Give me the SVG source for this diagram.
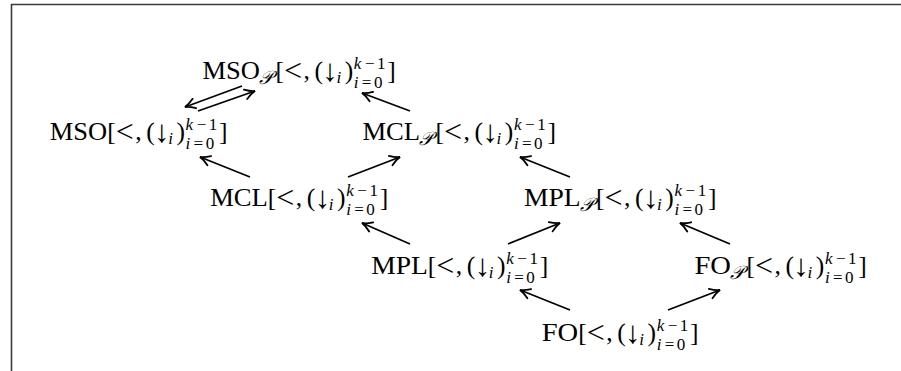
<svg xmlns="http://www.w3.org/2000/svg" width="901" height="371" viewBox="0 0 901 371">
<style>
  .m { font-family: "Liberation Serif", "DejaVu Serif", serif; font-size: 25.5px; fill: #000; }
  .lt { font-family: "Liberation Serif", "DejaVu Serif", serif; font-size: 32px; fill: #000; }
  .dn { font-family: "Liberation Serif", "DejaVu Serif", serif; font-size: 31px; fill: #000; }
  .s { font-family: "Liberation Serif", "DejaVu Serif", serif; font-size: 17px; fill: #000; }
  .it { font-style: italic; }
  .cal { font-family: "DejaVu Serif", "Liberation Serif", serif; font-style: italic; font-size: 19px; }
  .arr { fill: none; stroke: #000; stroke-width: 1.8; marker-end: url(#ah); }
  .frame { fill: none; stroke: #3a3a3a; stroke-width: 1.6; }
</style>
<defs>
  <marker id="ah" markerUnits="userSpaceOnUse" markerWidth="16" markerHeight="16" viewBox="-12 -8 16 16" refX="0" refY="0" orient="auto" overflow="visible">
    <path d="M-10,-5 C-6,-2.2 -2.5,-0.6 0,0 C-2.5,0.6 -6,2.2 -10,5" fill="none" stroke="#000" stroke-width="1.8" stroke-linecap="round"/>
  </marker>
</defs>
<rect width="901" height="371" fill="#fff"/>
<path class="frame" d="M11.5,371 V4.5 H901"/>

<g id="n_msoP" transform="translate(275.45,79)">
  <text class="m" x="-72.9" textLength="57.4" lengthAdjust="spacingAndGlyphs">MSO</text>
  <text class="s cal" x="-16.5" y="4.5">𝒫</text>
  <text class="m"><tspan x="0">[</tspan><tspan x="28">,</tspan><tspan x="39">(</tspan><tspan x="69.2">)</tspan><tspan x="111.8">]</tspan></text>
  <text class="lt" x="17.5" y="2" text-anchor="middle">&lt;</text>
  <text class="dn" x="54.6" y="1.5" text-anchor="middle">↓</text>
  <text class="s it" x="61" y="4">i</text>
  <text class="s" y="-10.5"><tspan class="it" x="78.4">k</tspan><tspan x="89.5">−</tspan><tspan x="101.6">1</tspan></text>
  <text class="s" y="9"><tspan class="it" x="78.4">i</tspan><tspan x="86.4">=</tspan><tspan x="98.5">0</tspan></text>
</g>

<g id="n_mso" transform="translate(107.2,140)">
  <text class="m" x="-57.4" textLength="57.4" lengthAdjust="spacingAndGlyphs">MSO</text>
  <text class="m"><tspan x="0">[</tspan><tspan x="28">,</tspan><tspan x="39">(</tspan><tspan x="69.2">)</tspan><tspan x="111.8">]</tspan></text>
  <text class="lt" x="17.5" y="2" text-anchor="middle">&lt;</text>
  <text class="dn" x="54.6" y="1.5" text-anchor="middle">↓</text>
  <text class="s it" x="61" y="4">i</text>
  <text class="s" y="-10.5"><tspan class="it" x="78.4">k</tspan><tspan x="89.5">−</tspan><tspan x="101.6">1</tspan></text>
  <text class="s" y="9"><tspan class="it" x="78.4">i</tspan><tspan x="86.4">=</tspan><tspan x="98.5">0</tspan></text>
</g>

<g id="n_mclP" transform="translate(435.6,140)">
  <text class="m" x="-73.2" textLength="57.7" lengthAdjust="spacingAndGlyphs">MCL</text>
  <text class="s cal" x="-16.5" y="4.5">𝒫</text>
  <text class="m"><tspan x="0">[</tspan><tspan x="28">,</tspan><tspan x="39">(</tspan><tspan x="69.2">)</tspan><tspan x="111.8">]</tspan></text>
  <text class="lt" x="17.5" y="2" text-anchor="middle">&lt;</text>
  <text class="dn" x="54.6" y="1.5" text-anchor="middle">↓</text>
  <text class="s it" x="61" y="4">i</text>
  <text class="s" y="-10.5"><tspan class="it" x="78.4">k</tspan><tspan x="89.5">−</tspan><tspan x="101.6">1</tspan></text>
  <text class="s" y="9"><tspan class="it" x="78.4">i</tspan><tspan x="86.4">=</tspan><tspan x="98.5">0</tspan></text>
</g>

<g id="n_mcl" transform="translate(267.85,206)">
  <text class="m" x="-57.7" textLength="57.7" lengthAdjust="spacingAndGlyphs">MCL</text>
  <text class="m"><tspan x="0">[</tspan><tspan x="28">,</tspan><tspan x="39">(</tspan><tspan x="69.2">)</tspan><tspan x="111.8">]</tspan></text>
  <text class="lt" x="17.5" y="2" text-anchor="middle">&lt;</text>
  <text class="dn" x="54.6" y="1.5" text-anchor="middle">↓</text>
  <text class="s it" x="61" y="4">i</text>
  <text class="s" y="-10.5"><tspan class="it" x="78.4">k</tspan><tspan x="89.5">−</tspan><tspan x="101.6">1</tspan></text>
  <text class="s" y="9"><tspan class="it" x="78.4">i</tspan><tspan x="86.4">=</tspan><tspan x="98.5">0</tspan></text>
</g>

<g id="n_mplP" transform="translate(596.1,206)">
  <text class="m" x="-72.2" textLength="56.7" lengthAdjust="spacingAndGlyphs">MPL</text>
  <text class="s cal" x="-16.5" y="4.5">𝒫</text>
  <text class="m"><tspan x="0">[</tspan><tspan x="28">,</tspan><tspan x="39">(</tspan><tspan x="69.2">)</tspan><tspan x="111.8">]</tspan></text>
  <text class="lt" x="17.5" y="2" text-anchor="middle">&lt;</text>
  <text class="dn" x="54.6" y="1.5" text-anchor="middle">↓</text>
  <text class="s it" x="61" y="4">i</text>
  <text class="s" y="-10.5"><tspan class="it" x="78.4">k</tspan><tspan x="89.5">−</tspan><tspan x="101.6">1</tspan></text>
  <text class="s" y="9"><tspan class="it" x="78.4">i</tspan><tspan x="86.4">=</tspan><tspan x="98.5">0</tspan></text>
</g>

<g id="n_mpl" transform="translate(427.85,274)">
  <text class="m" x="-56.7" textLength="56.7" lengthAdjust="spacingAndGlyphs">MPL</text>
  <text class="m"><tspan x="0">[</tspan><tspan x="28">,</tspan><tspan x="39">(</tspan><tspan x="69.2">)</tspan><tspan x="111.8">]</tspan></text>
  <text class="lt" x="17.5" y="2" text-anchor="middle">&lt;</text>
  <text class="dn" x="54.6" y="1.5" text-anchor="middle">↓</text>
  <text class="s it" x="61" y="4">i</text>
  <text class="s" y="-10.5"><tspan class="it" x="78.4">k</tspan><tspan x="89.5">−</tspan><tspan x="101.6">1</tspan></text>
  <text class="s" y="9"><tspan class="it" x="78.4">i</tspan><tspan x="86.4">=</tspan><tspan x="98.5">0</tspan></text>
</g>

<g id="n_foP" transform="translate(746.5,274)">
  <text class="m" x="-52" textLength="36.5" lengthAdjust="spacingAndGlyphs">FO</text>
  <text class="s cal" x="-16.5" y="4.5">𝒫</text>
  <text class="m"><tspan x="0">[</tspan><tspan x="28">,</tspan><tspan x="39">(</tspan><tspan x="69.2">)</tspan><tspan x="111.8">]</tspan></text>
  <text class="lt" x="17.5" y="2" text-anchor="middle">&lt;</text>
  <text class="dn" x="54.6" y="1.5" text-anchor="middle">↓</text>
  <text class="s it" x="61" y="4">i</text>
  <text class="s" y="-10.5"><tspan class="it" x="78.4">k</tspan><tspan x="89.5">−</tspan><tspan x="101.6">1</tspan></text>
  <text class="s" y="9"><tspan class="it" x="78.4">i</tspan><tspan x="86.4">=</tspan><tspan x="98.5">0</tspan></text>
</g>

<g id="n_fo" transform="translate(578.25,341)">
  <text class="m" x="-36.5" textLength="36.5" lengthAdjust="spacingAndGlyphs">FO</text>
  <text class="m"><tspan x="0">[</tspan><tspan x="28">,</tspan><tspan x="39">(</tspan><tspan x="69.2">)</tspan><tspan x="111.8">]</tspan></text>
  <text class="lt" x="17.5" y="2" text-anchor="middle">&lt;</text>
  <text class="dn" x="54.6" y="1.5" text-anchor="middle">↓</text>
  <text class="s it" x="61" y="4">i</text>
  <text class="s" y="-10.5"><tspan class="it" x="78.4">k</tspan><tspan x="89.5">−</tspan><tspan x="101.6">1</tspan></text>
  <text class="s" y="9"><tspan class="it" x="78.4">i</tspan><tspan x="86.4">=</tspan><tspan x="98.5">0</tspan></text>
</g>

<g id="connectors">
  <line class="arr" x1="242" y1="86" x2="185" y2="107"/>
  <line class="arr" x1="198" y1="111" x2="255" y2="91"/>
  <line class="arr" x1="410" y1="111" x2="362" y2="93"/>
  <line class="arr" x1="250" y1="177" x2="200" y2="157"/>
  <line class="arr" x1="348" y1="177" x2="400" y2="157"/>
  <line class="arr" x1="570" y1="177" x2="520" y2="157"/>
  <line class="arr" x1="410" y1="244" x2="362" y2="223"/>
  <line class="arr" x1="508" y1="244" x2="560" y2="223"/>
  <line class="arr" x1="730" y1="244" x2="680" y2="223"/>
  <line class="arr" x1="570" y1="310" x2="520" y2="290"/>
  <line class="arr" x1="668" y1="310" x2="720" y2="290"/>
</g>
</svg>
